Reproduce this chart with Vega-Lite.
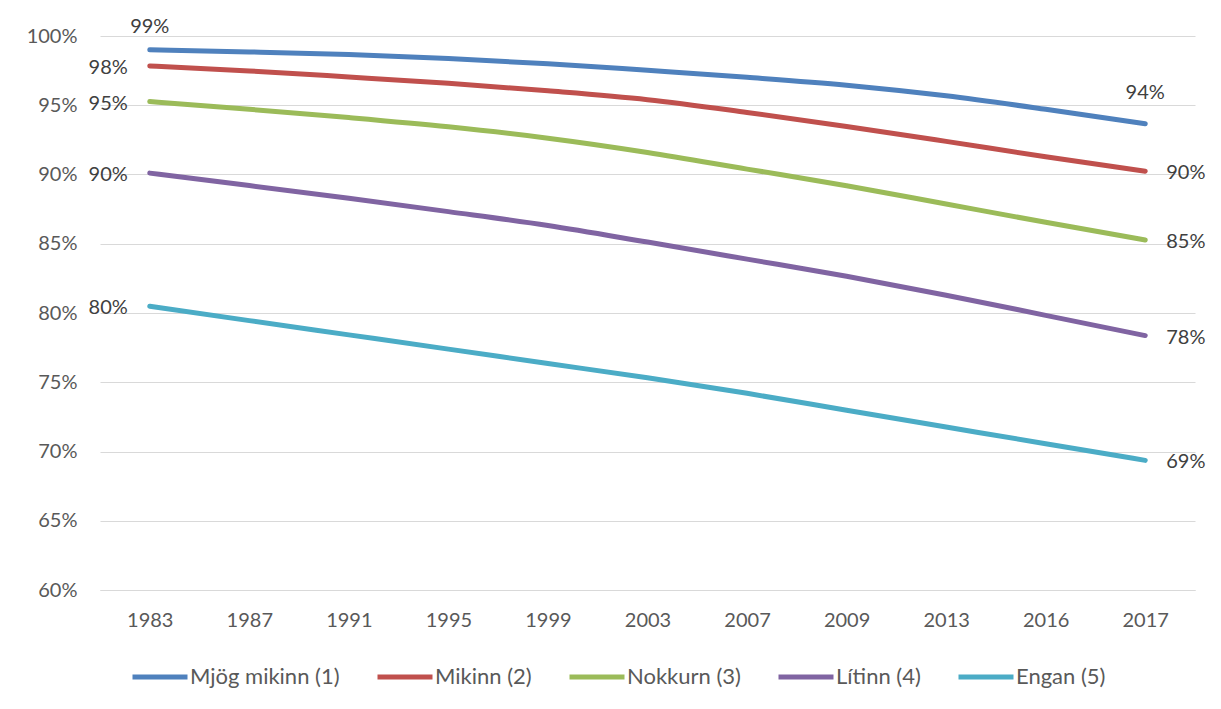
{
  "$schema": "https://vega.github.io/schema/vega-lite/v6.json",
  "width": 1095,
  "height": 554,
  "autosize": {"type": "none"},
  "padding": {"left": 100, "top": 36, "right": 26, "bottom": 119},
  "background": "white",
  "config": {
    "font": "Lato",
    "view": {"stroke": null},
    "axis": {"labelFont": "Lato", "labelFontSize": 20, "labelColor": "#595959", "titleFont": "Lato"},
    "legend": {"labelFont": "Lato"}
  },
  "data": {
    "values": [
      {"year": "1983", "series": "Mjög mikinn (1)", "v": 0.990},
      {"year": "1987", "series": "Mjög mikinn (1)", "v": 0.9885},
      {"year": "1991", "series": "Mjög mikinn (1)", "v": 0.9866},
      {"year": "1995", "series": "Mjög mikinn (1)", "v": 0.9837},
      {"year": "1999", "series": "Mjög mikinn (1)", "v": 0.980},
      {"year": "2003", "series": "Mjög mikinn (1)", "v": 0.9752},
      {"year": "2007", "series": "Mjög mikinn (1)", "v": 0.9702},
      {"year": "2009", "series": "Mjög mikinn (1)", "v": 0.9645},
      {"year": "2013", "series": "Mjög mikinn (1)", "v": 0.9568},
      {"year": "2016", "series": "Mjög mikinn (1)", "v": 0.9471},
      {"year": "2017", "series": "Mjög mikinn (1)", "v": 0.9366},
      {"year": "1983", "series": "Mikinn (2)", "v": 0.9784},
      {"year": "1987", "series": "Mikinn (2)", "v": 0.9748},
      {"year": "1991", "series": "Mikinn (2)", "v": 0.9704},
      {"year": "1995", "series": "Mikinn (2)", "v": 0.9658},
      {"year": "1999", "series": "Mikinn (2)", "v": 0.9604},
      {"year": "2003", "series": "Mikinn (2)", "v": 0.9540},
      {"year": "2007", "series": "Mikinn (2)", "v": 0.9448},
      {"year": "2009", "series": "Mikinn (2)", "v": 0.9347},
      {"year": "2013", "series": "Mikinn (2)", "v": 0.9239},
      {"year": "2016", "series": "Mikinn (2)", "v": 0.9128},
      {"year": "2017", "series": "Mikinn (2)", "v": 0.9024},
      {"year": "1983", "series": "Nokkurn (3)", "v": 0.9527},
      {"year": "1987", "series": "Nokkurn (3)", "v": 0.9471},
      {"year": "1991", "series": "Nokkurn (3)", "v": 0.9411},
      {"year": "1995", "series": "Nokkurn (3)", "v": 0.9344},
      {"year": "1999", "series": "Nokkurn (3)", "v": 0.9262},
      {"year": "2003", "series": "Nokkurn (3)", "v": 0.9159},
      {"year": "2007", "series": "Nokkurn (3)", "v": 0.9039},
      {"year": "2009", "series": "Nokkurn (3)", "v": 0.8919},
      {"year": "2013", "series": "Nokkurn (3)", "v": 0.8787},
      {"year": "2016", "series": "Nokkurn (3)", "v": 0.8655},
      {"year": "2017", "series": "Nokkurn (3)", "v": 0.8527},
      {"year": "1983", "series": "Lítinn (4)", "v": 0.901},
      {"year": "1987", "series": "Lítinn (4)", "v": 0.892},
      {"year": "1991", "series": "Lítinn (4)", "v": 0.8828},
      {"year": "1995", "series": "Lítinn (4)", "v": 0.8732},
      {"year": "1999", "series": "Lítinn (4)", "v": 0.8632},
      {"year": "2003", "series": "Lítinn (4)", "v": 0.8512},
      {"year": "2007", "series": "Lítinn (4)", "v": 0.8389},
      {"year": "2009", "series": "Lítinn (4)", "v": 0.8265},
      {"year": "2013", "series": "Lítinn (4)", "v": 0.8128},
      {"year": "2016", "series": "Lítinn (4)", "v": 0.7983},
      {"year": "2017", "series": "Lítinn (4)", "v": 0.7837},
      {"year": "1983", "series": "Engan (5)", "v": 0.8049},
      {"year": "1987", "series": "Engan (5)", "v": 0.7945},
      {"year": "1991", "series": "Engan (5)", "v": 0.7842},
      {"year": "1995", "series": "Engan (5)", "v": 0.7739},
      {"year": "1999", "series": "Engan (5)", "v": 0.7635},
      {"year": "2003", "series": "Engan (5)", "v": 0.7532},
      {"year": "2007", "series": "Engan (5)", "v": 0.742},
      {"year": "2009", "series": "Engan (5)", "v": 0.7298},
      {"year": "2013", "series": "Engan (5)", "v": 0.7177},
      {"year": "2016", "series": "Engan (5)", "v": 0.7056},
      {"year": "2017", "series": "Engan (5)", "v": 0.6936}
    ]
  },
  "encoding": {
    "x": {
      "field": "year",
      "type": "ordinal",
      "sort": null,
      "scale": {"type": "point", "padding": 0.5},
      "axis": {
        "title": null,
        "labelAngle": 0,
        "ticks": false,
        "domain": true,
        "domainColor": "#d9d9d9",
        "domainWidth": 1,
        "labelPadding": 20,
        "grid": false
      }
    },
    "y": {
      "field": "v",
      "type": "quantitative",
      "scale": {"domain": [0.6, 1.0], "zero": false, "nice": false},
      "axis": {
        "title": null,
        "format": ".0%",
        "values": [0.6, 0.65, 0.7, 0.75, 0.8, 0.85, 0.9, 0.95, 1.0],
        "ticks": false,
        "domain": false,
        "grid": true,
        "gridColor": "#d9d9d9",
        "gridWidth": 1,
        "labelPadding": 23
      }
    }
  },
  "layer": [
    {
      "mark": {"type": "line", "strokeWidth": 5, "strokeCap": "round", "strokeJoin": "round", "interpolate": "monotone"},
      "encoding": {
        "color": {
          "field": "series",
          "type": "nominal",
          "sort": ["Mjög mikinn (1)", "Mikinn (2)", "Nokkurn (3)", "Lítinn (4)", "Engan (5)"],
          "scale": {
            "domain": ["Mjög mikinn (1)", "Mikinn (2)", "Nokkurn (3)", "Lítinn (4)", "Engan (5)"],
            "range": ["#4F81BD", "#C0504D", "#9BBB59", "#8064A2", "#4BACC6"]
          },
          "legend": {
            "title": null,
            "orient": "none",
            "legendX": 30,
            "legendY": 611,
            "direction": "horizontal",
            "symbolType": "stroke",
            "symbolSize": 3025,
            "symbolStrokeWidth": 5,
            "labelFontSize": 22,
            "labelColor": "#595959",
            "labelOffset": 0,
            "columnPadding": 27
          }
        }
      }
    },
    {
      "transform": [{"filter": "datum.year == '1983' && datum.series != 'Mjög mikinn (1)'"}],
      "mark": {"type": "text", "align": "right", "baseline": "middle", "dx": -22, "dy": 2, "fontSize": 20, "color": "#404040", "font": "Lato"},
      "encoding": {"text": {"field": "v", "type": "quantitative", "format": ".0%"}}
    },
    {
      "transform": [{"filter": "datum.year == '2017' && datum.series != 'Mjög mikinn (1)'"}],
      "mark": {"type": "text", "align": "left", "baseline": "middle", "dx": 21, "dy": 2, "fontSize": 20, "color": "#404040", "font": "Lato"},
      "encoding": {"text": {"field": "v", "type": "quantitative", "format": ".0%"}}
    },
    {
      "transform": [{"filter": "datum.year == '1983' && datum.series == 'Mjög mikinn (1)'"}],
      "mark": {"type": "text", "align": "center", "baseline": "middle", "dy": -23, "fontSize": 20, "color": "#404040", "font": "Lato"},
      "encoding": {"text": {"field": "v", "type": "quantitative", "format": ".0%"}}
    },
    {
      "transform": [{"filter": "datum.year == '2017' && datum.series == 'Mjög mikinn (1)'"}],
      "mark": {"type": "text", "align": "center", "baseline": "middle", "dy": -31, "fontSize": 20, "color": "#404040", "font": "Lato"},
      "encoding": {"text": {"field": "v", "type": "quantitative", "format": ".0%"}}
    }
  ]
}
